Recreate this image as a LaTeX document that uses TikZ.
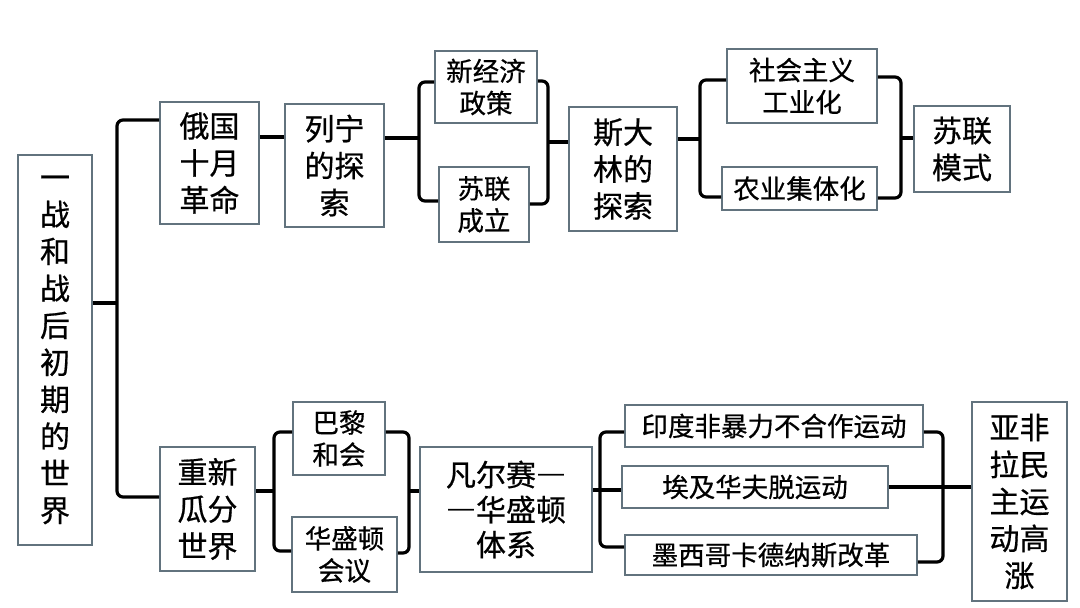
\documentclass[tikz,border=0pt]{standalone}
\usepackage{fontspec}
\setmainfont{Noto Sans CJK SC}[FakeBold=0.6]
\usepackage{tikz}
\usetikzlibrary{calc}

\definecolor{boxgray}{HTML}{62737E}
\newcommand{\bigtxt}{\fontsize{30}{37}\selectfont}
\newcommand{\smalltxt}{\fontsize{26.5}{32}\selectfont}
\newcommand{\fwdash}{{\addfontfeature{CharacterWidth=Full}—}}

\begin{document}
\begin{tikzpicture}[x = 1pt, y = -1pt,
	box/.style = {draw = boxgray, line width = 1.8pt, fill = white, align = center, inner sep = 0pt, font = \bigtxt},
	sbox/.style = {box, font = \smalltxt},
	link/.style = {line width = 3.2pt, black, rounded corners = 6pt}]
	\useasboundingbox (0, 0) rectangle (1080, 608);

	\node[box, minimum width = 74, minimum height = 390](world) at (55, 350){一\\战\\和\\战\\后\\初\\期\\的\\世\\界};

	\node[box, minimum width = 99, minimum height = 122](october) at (209.5, 163){俄国\\十月\\革命};
	\node[box, minimum width = 99, minimum height = 123](lenin) at (334.5, 165.5){列宁\\的探\\索};
	\node[sbox, minimum width = 102, minimum height = 72](nep) at (486, 87){新经济\\政策};
	\node[sbox, minimum width = 90, minimum height = 75](ussr) at (484, 204.5){苏联\\成立};
	\node[box, minimum width = 108, minimum height = 124](stalin) at (623, 169){斯大\\林的\\探索};
	\node[sbox, minimum width = 150, minimum height = 74](industry) at (802, 86){社会主义\\工业化};
	\node[sbox, minimum width = 155, minimum height = 43](farm) at (799.5, 188.5){农业集体化};
	\node[box, minimum width = 96, minimum height = 86](model) at (962, 149){苏联\\模式};

	\node[box, minimum width = 95, minimum height = 124](divide) at (207.5, 509){重新\\瓜分\\世界};
	\node[sbox, minimum width = 92, minimum height = 73](paris) at (339, 438.5){巴黎\\和会};
	\node[sbox, minimum width = 105, minimum height = 75](wash) at (344.5, 554.5){华盛顿\\会议};
	\node[box, font = \fontsize{30}{35}\selectfont, minimum width = 172, minimum height = 125](system) at (506, 509.5){凡尔赛\fwdash\\\fwdash 华盛顿\\体系};
	\node[sbox, minimum width = 298, minimum height = 42](india) at (774, 426){印度非暴力不合作运动};
	\node[sbox, minimum width = 266, minimum height = 42](egypt) at (755, 487){埃及华夫脱运动};
	\node[sbox, minimum width = 292, minimum height = 40](mexico) at (771, 555){墨西哥卡德纳斯改革};
	\node[box, minimum width = 95, minimum height = 199](rise) at (1019.5, 501.5){亚非\\拉民\\主运\\动高\\涨};

	\coordinate[](w) at (117, 303);
	\coordinate[](l1) at (419, 138);
	\coordinate[](r1) at (548, 142);
	\coordinate[](l2) at (700, 139);
	\coordinate[](r2) at (901, 138);
	\coordinate[](l3) at (274, 491);
	\coordinate[](r3) at (409, 491);
	\coordinate[](l4) at (600, 490);
	\coordinate[](r4) at (943, 487);

	\draw[link] (world.east |- w)--(w);
	\draw[link] (october.west |- 0, 120) -| (w) |- (divide.west |- 0, 497);
	\draw[link] (october.east |- 0, 137)--(lenin.west |- 0, 137);

	\draw[link] (lenin.east |- l1)--(l1);
	\draw[link] (nep.west |- 0, 82) -| (l1) |- (ussr.west |- 0, 201);
	\draw[link] (nep.east |- 0, 81) -| (r1) |- (ussr.east |- 0, 204);
	\draw[link] (r1)--(stalin.west |- r1);

	\draw[link] (stalin.east |- l2)--(l2);
	\draw[link] (industry.west |- 0, 80) -| (l2) |- (farm.west |- 0, 197);
	\draw[link] (industry.east |- 0, 77) -| (r2) |- (farm.east |- 0, 198);
	\draw[link] (r2)--(model.west |- r2);

	\draw[link] (divide.east |- l3)--(l3);
	\draw[link] (paris.west |- 0, 432) -| (l3) |- (wash.west |- 0, 551);
	\draw[link] (paris.east |- 0, 432) -| (r3) |- (wash.east |- 0, 553);
	\draw[link] (r3)--(system.west |- r3);

	\draw[link] (system.east |- l4)--(l4);
	\draw[link] (india.west |- 0, 432) -| (l4) |- (mexico.west |- 0, 547);
	\draw[link] (l4)--(egypt.west |- l4);
	\draw[link] (india.east |- 0, 432) -| (r4) |- (mexico.east |- 0, 562);
	\draw[link] (egypt.east |- r4)--(rise.west |- r4);
\end{tikzpicture}
\end{document}
